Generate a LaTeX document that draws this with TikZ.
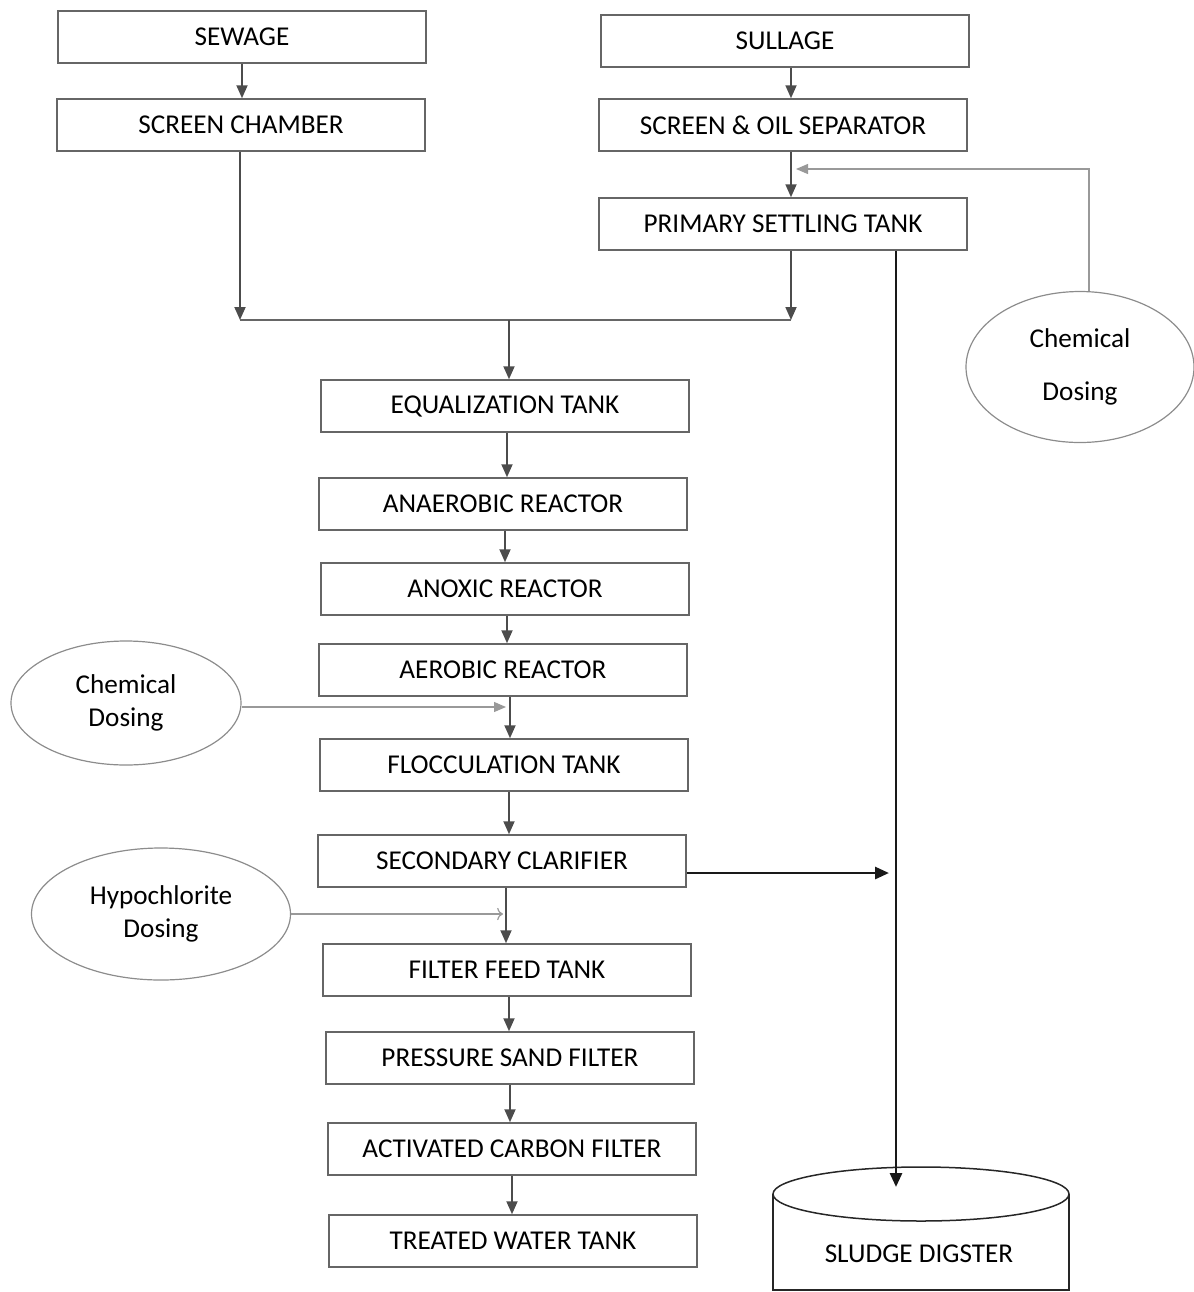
\documentclass[tikz,border=0pt]{standalone}
\usepackage{fontspec}
\setmainfont{Carlito}
\usetikzlibrary{arrows.meta,shapes.geometric}

\begin{document}
\begin{tikzpicture}[x=0.5pt,y=-0.5pt]
        \tikzstyle{every node}+=[inner sep=0pt, font=\fontsize{13.6}{16.5}\selectfont]
        \tikzstyle{unit}=[draw=black!60, line width=0.75pt, minimum width=184pt, minimum height=26pt]
        \tikzstyle{dose}=[draw=black!45, line width=0.6pt, ellipse, align=center]
        \tikzstyle{flow}=[draw=black!70, line width=0.9pt, -{Triangle[length=6.5pt,width=5.5pt]}]
        \tikzstyle{pipe}=[draw=black!60, line width=0.75pt]
        \tikzstyle{dosing}=[draw=black!40, line width=0.6pt, -{Triangle[length=6pt,width=5pt]}]
        \tikzstyle{sludge}=[draw=black!90, line width=1.4pt, -{Triangle[length=7pt,width=6pt]}]
        \useasboundingbox (0,0) rectangle (1194,1292);
        % feed lines
        \node [unit] (sewage) at (242,37) {SEWAGE};
        \node [unit] (screen) at (241,125) {SCREEN CHAMBER};
        \node [unit] (sullage) at (785,41) {SULLAGE};
        \node [unit] (oilsep) at (783,125) {SCREEN \& OIL SEPARATOR};
        \node [unit] (primary) at (783,224) {PRIMARY SETTLING TANK};
        % main train
        \node [unit] (equal) at (505,406) {EQUALIZATION TANK};
        \node [unit] (anaerobic) at (503,504) {ANAEROBIC REACTOR};
        \node [unit] (anoxic) at (505,589) {ANOXIC REACTOR};
        \node [unit] (aerobic) at (503,670) {AEROBIC REACTOR};
        \node [unit] (floc) at (504,765) {FLOCCULATION TANK};
        \node [unit] (clarifier) at (502,861) {SECONDARY CLARIFIER};
        \node [unit] (feed) at (507,970) {FILTER FEED TANK};
        \node [unit] (sand) at (510,1058) {PRESSURE SAND FILTER};
        \node [unit] (carbon) at (512,1149) {ACTIVATED CARBON FILTER};
        \node [unit] (treated) at (513,1241) {TREATED WATER TANK};
        % dosing
        \node [dose, minimum width=114pt, minimum height=75.5pt] (chemtop) at (1080,367) {Chemical\\[10pt]Dosing};
        \node [dose, minimum width=115pt, minimum height=62pt] (chemleft) at (126,703) {Chemical\\Dosing};
        \node [dose, minimum width=129.5pt, minimum height=66pt] (hypo) at (161,914) {Hypochlorite\\Dosing};
        % sludge digester
        \draw [pipe, draw=black!85] (921,1194) ellipse [x radius=74pt, y radius=13.5pt];
        \draw [pipe, draw=black!85] (773,1194) -- (773,1290) -- (1069,1290) -- (1069,1194);
        \node (digester) at (919,1254) {SLUDGE DIGSTER};
        \coordinate (digtop) at (896,1187);
        \coordinate (sludgein) at (889,873);
        % junction
        \coordinate (mixl) at (240,320);
        \coordinate (mixm) at (509,320);
        \coordinate (mixr) at (791,320);
        \coordinate (dosein) at (796,169);
        \coordinate (dosemid) at (506,707);
        \coordinate (hypomid) at (503,913);
        \draw [flow] (sewage.south) -- (sewage.south |- screen.north);
        \draw [flow] (sullage.south -| mixr) -- (oilsep.north -| mixr);
        \draw [flow] (oilsep.south -| mixr) -- (primary.north -| mixr);
        \draw [flow] (screen.south -| mixl) -- (mixl);
        \draw [flow] (primary.south -| mixr) -- (mixr);
        \draw [pipe] (mixl) -- (mixr);
        \draw [flow] (mixm) -- (equal.north -| mixm);
        \foreach \a/\b/\s in {equal/anaerobic/1, anaerobic/anoxic/1, anoxic/aerobic/1, aerobic/floc/3.5,
                floc/clarifier/2.5, clarifier/feed/2, feed/sand/1, sand/carbon/0, carbon/treated/0}
            \draw [flow] ([xshift=\s pt]\a.south) -- ([xshift=\s pt]\a.south |- \b.north);
        \draw [dosing] ([xshift=4.5pt]chemtop.north) |- (dosein);
        \draw [dosing] ([yshift=-2pt]chemleft.east) -- ([yshift=-2pt]chemleft.east -| dosemid);
        \draw [draw=black!40, line width=0.6pt, ->] (hypo.east) -- (hypo.east -| hypomid);
        \draw [sludge] (primary.south -| digtop) -- (digtop);
        \draw [sludge] (clarifier.east |- sludgein) -- (sludgein);
\end{tikzpicture}
\end{document}
